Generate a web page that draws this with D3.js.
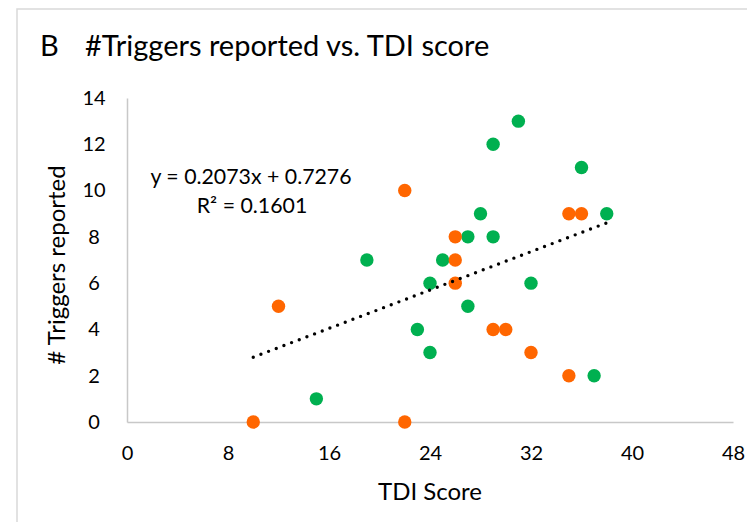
<!DOCTYPE html>
<html>
<head>
<meta charset="utf-8">
<script src="https://cdn.jsdelivr.net/npm/d3@7"></script>
<style>
  html, body { margin: 0; padding: 0; background: #ffffff; }
  svg { display: block; font-family: Lato, "Open Sans", sans-serif; }
</style>
</head>
<body>
<svg id="chart" width="747" height="522"></svg>
<script>
// ---- data ----
const titleText = "#Triggers reported vs. TDI score";
const panelLabel = "B";
const xAxisTitle = "TDI Score";
const yAxisTitle = "# Triggers reported";
const xTicks = [0, 8, 16, 24, 32, 40, 48];
const yTicks = [0, 2, 4, 6, 8, 10, 12, 14];

// green series (TDI score, #triggers)
const greenX = [31, 29, 28, 27, 29, 19, 25, 24, 27, 23, 24, 15, 36, 38, 32, 37];
const greenY = [13, 12, 9, 8, 8, 7, 7, 6, 5, 4, 3, 1, 11, 9, 6, 2];
// orange series
const orangeX = [22, 26, 26, 26, 12, 29, 30, 10, 22, 35, 36, 32, 35];
const orangeY = [10, 8, 7, 6, 5, 4, 4, 0, 0, 9, 9, 3, 2];

// linear trendline (as labelled on chart)
const trendSlope = 0.2073;
const trendIntercept = 0.7276;
const trendR2 = 0.1601;

// ---- drawing ----
const svg = d3.select("#chart");
const x = d3.scaleLinear().domain([0, 48]).range([127, 733]);
const y = d3.scaleLinear().domain([0, 14]).range([422, 98]);

// chart border
svg.append("rect")
  .attr("x", 17).attr("y", 9)
  .attr("width", 760).attr("height", 540)
  .attr("fill", "none").attr("stroke", "#D9D9D9").attr("stroke-width", 1.5);

// title
svg.append("text").attr("x", 40).attr("y", 56)
  .attr("font-size", 29).attr("fill", "#000").text(panelLabel);
svg.append("text").attr("x", 85).attr("y", 56)
  .attr("font-size", 29).attr("fill", "#000").text(titleText);

// axes
const xAxis = d3.axisBottom(x).tickValues(xTicks).tickSizeInner(0).tickSizeOuter(0).tickPadding(24);
const gx = svg.append("g").attr("transform", `translate(0,${y(0)})`).call(xAxis);
gx.select(".domain").attr("stroke", "#C8C8C8").attr("stroke-width", 1.5);
gx.selectAll("text").attr("font-size", 20).attr("font-family", "Lato").attr("fill", "#000");

const yAxis = d3.axisLeft(y).tickValues(yTicks).tickSizeInner(0).tickSizeOuter(0);
const gy = svg.append("g").attr("transform", `translate(${x(0)},0)`).call(yAxis);
gy.select(".domain").attr("stroke", "#C8C8C8").attr("stroke-width", 1.5);
gy.selectAll("text").attr("font-size", 20).attr("font-family", "Lato").attr("fill", "#000")
  .attr("text-anchor", "middle").attr("x", -33);

// axis titles
svg.append("text").attr("x", (x(0) + x(48)) / 2).attr("y", 500)
  .attr("text-anchor", "middle").attr("font-size", 24).attr("fill", "#000").text(xAxisTitle);
svg.append("text")
  .attr("transform", `translate(65,${(y(0) + y(14)) / 2 + 5}) rotate(-90)`)
  .attr("text-anchor", "middle").attr("font-size", 24).attr("fill", "#000").text(yAxisTitle);

// points
const green = greenX.map((d, i) => ({ x: d, y: greenY[i] }));
const orange = orangeX.map((d, i) => ({ x: d, y: orangeY[i] }));

svg.append("g").selectAll("circle").data(green).join("circle")
  .attr("cx", d => x(d.x)).attr("cy", d => y(d.y)).attr("r", 6.7).attr("fill", "#00B050");
svg.append("g").selectAll("circle").data(orange).join("circle")
  .attr("cx", d => x(d.x)).attr("cy", d => y(d.y)).attr("r", 6.7).attr("fill", "#FF6600");

// trendline across the data x-range
const allX = greenX.concat(orangeX);
const xMin = d3.min(allX), xMax = d3.max(allX);
svg.append("line")
  .attr("x1", x(xMin)).attr("y1", y(trendSlope * xMin + trendIntercept))
  .attr("x2", x(xMax)).attr("y2", y(trendSlope * xMax + trendIntercept))
  .attr("stroke", "#000").attr("stroke-width", 3.4)
  .attr("stroke-linecap", "round").attr("stroke-dasharray", "0,8.2");

// equation label
const eq = svg.append("text").attr("text-anchor", "middle").attr("font-size", 21.3).attr("fill", "#000");
eq.append("tspan").attr("x", 251).attr("y", 184)
  .text(`y = ${trendSlope}x + ${trendIntercept}`);
eq.append("tspan").attr("x", 252).attr("y", 213)
  .text(`R² = ${trendR2}`);
</script>
</body>
</html>
